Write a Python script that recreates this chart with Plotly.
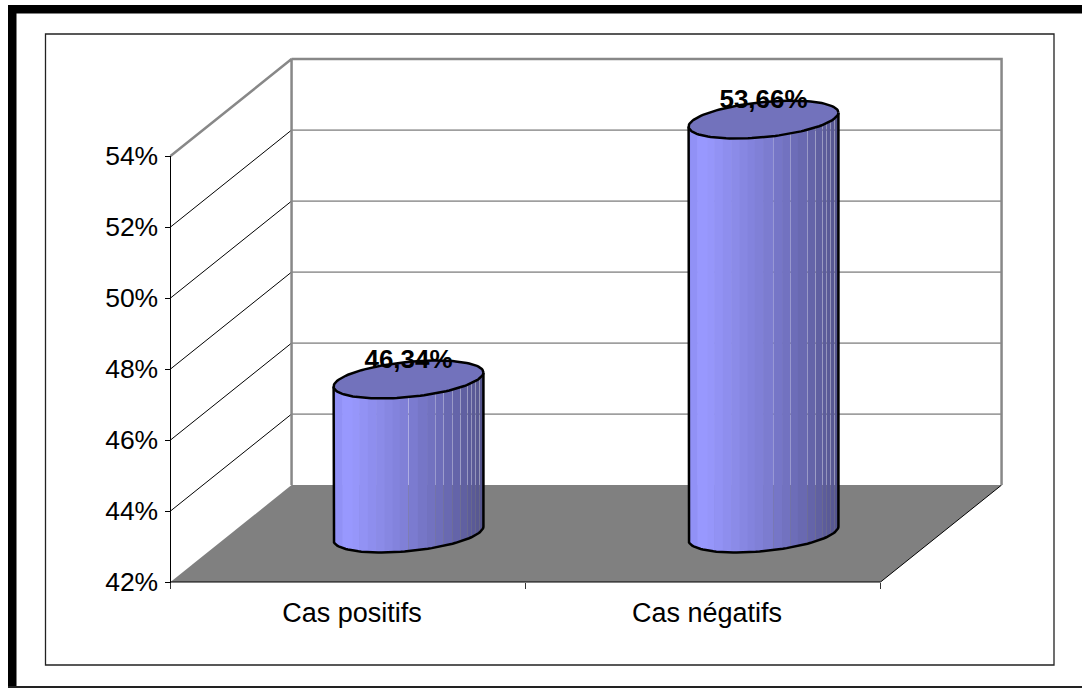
import math
import plotly.graph_objects as go

# Chart data
categories = ["Cas positifs", "Cas négatifs"]
values = [46.34, 53.66]
value_labels = ["46,34%", "53,66%"]
y_ticks = [42, 44, 46, 48, 50, 52, 54]

# Page and front-plane geometry, in pixels
W, H = 1082, 688
LEFT, RIGHT, TOP, BOTTOM = 170.5, 880.5, 156, 582

# Front plane of the box, in axis units
X_MIN, X_MAX = 0.0, 2.0
Y_MIN, Y_MAX = 42.0, 54.0
PX_PER_X = (RIGHT - LEFT) / (X_MAX - X_MIN)
PX_PER_Y = (BOTTOM - TOP) / (Y_MAX - Y_MIN)

# Oblique projection of the depth, in axis units
DEPTH_X = 0.341
DEPTH_Y = 2.73

# Cylinder shape, in axis units
RADIUS = 0.211
ELL_H = 0.496
ELL_SKEW = 0.197
LABEL_LIFT = 0.5

# Shading bands across a cylinder, as thousandths of its width
BAND_EDGES = [0, 16, 60, 128, 172, 231, 287, 342, 396, 443, 499, 564,
              626, 678, 732, 792, 846, 893, 919, 946, 973, 1000]
# Band edges where a hairline of the backdrop shows between two bands
OPEN_SEAMS = [
    [10, 13, 14, 15, 16, 17, 18, 19, 20],
    [11, 13, 15, 16, 17, 18, 19, 20],
]
SEAM_PX = 0.13
OVERLAP_PX = 0.3

GRADIENT = [
    (0.00, (140, 140, 240)),
    (0.10, (153, 153, 255)),
    (0.50, (126, 126, 212)),
    (0.80, (102, 102, 172)),
    (1.00, (84, 84, 140)),
]
CAP_COLOR = "#7272BC"
FLOOR_COLOR = "#808080"
WALL_EDGE = "#888888"
GRID_COLOR = "#5a5a5a"
FONT = "Liberation Sans, Arial, sans-serif"


def shade(u):
    for (u0, c0), (u1, c1) in zip(GRADIENT, GRADIENT[1:]):
        if u <= u1:
            f = (u - u0) / (u1 - u0)
            r, g, b = [round(a + (b - a) * f) for a, b in zip(c0, c1)]
            return f"rgb({r},{g},{b})"
    return "rgb(84,84,140)"


def ring(cx, cy, t):
    """Point on the projected circle of a cylinder section."""
    return (cx + RADIUS * math.cos(t),
            cy + ELL_H * math.sin(t) + ELL_SKEW * math.cos(t))


def front_angle(u):
    """Angle on the front half of the circle for a fraction of the width."""
    return -math.acos(max(-1.0, min(1.0, 2 * u - 1)))


fig = go.Figure()


def line(xs, ys, color, width):
    fig.add_trace(go.Scatter(x=xs, y=ys, mode="lines",
                             line=dict(color=color, width=width),
                             hoverinfo="skip", showlegend=False))


def poly(xs, ys, fill, edge=None, width=0.0):
    fig.add_trace(go.Scatter(x=xs + xs[:1], y=ys + ys[:1], mode="lines",
                             fill="toself", fillcolor=fill,
                             line=dict(color=edge or fill, width=width),
                             hoverinfo="skip", showlegend=False))


# Floor of the box
poly([X_MIN, X_MAX, X_MAX + DEPTH_X, X_MIN + DEPTH_X],
     [Y_MIN, Y_MIN, Y_MIN + DEPTH_Y, Y_MIN + DEPTH_Y], FLOOR_COLOR)
line([X_MAX, X_MAX + DEPTH_X], [Y_MIN, Y_MIN + DEPTH_Y], "#000000", 1)

# Gridlines on the side wall and the back wall
for v in y_ticks[1:-1]:
    line([X_MIN, X_MIN + DEPTH_X], [v, v + DEPTH_Y], "#000000", 1)
    line([X_MIN + DEPTH_X, X_MAX + DEPTH_X], [v + DEPTH_Y, v + DEPTH_Y], GRID_COLOR, 1)

# Outer edges of the walls
line([X_MIN, X_MIN + DEPTH_X, X_MIN + DEPTH_X],
     [Y_MAX, Y_MAX + DEPTH_Y, Y_MIN + DEPTH_Y], WALL_EDGE, 2.5)
line([X_MIN + DEPTH_X, X_MAX + DEPTH_X, X_MAX + DEPTH_X],
     [Y_MAX + DEPTH_Y, Y_MAX + DEPTH_Y, Y_MIN + DEPTH_Y], WALL_EDGE, 2.5)

# Front edges that carry the ticks
line([X_MIN, X_MIN, X_MAX], [Y_MAX, Y_MIN, Y_MIN], "#000000", 1)

# Cylinders, drawn as vertical shaded bands
band_px = 2 * RADIUS * PX_PER_X
for i, value in enumerate(values):
    cx = i + 0.5 + DEPTH_X / 2
    base = Y_MIN + DEPTH_Y / 2
    top = value + DEPTH_Y / 2
    for b in range(len(BAND_EDGES) - 1):
        pad0 = -SEAM_PX if b in OPEN_SEAMS[i] else OVERLAP_PX
        pad1 = -SEAM_PX if b + 1 in OPEN_SEAMS[i] else OVERLAP_PX
        u0 = max(0.0, BAND_EDGES[b] / 1000 - pad0 / band_px)
        u1 = min(1.0, BAND_EDGES[b + 1] / 1000 + pad1 / band_px)
        us = [u0 + (u1 - u0) * k / 6 for k in range(7)]
        ts = [front_angle(u) for u in us]
        pts = ([ring(cx, base, t) for t in ts] +
               [ring(cx, top, t) for t in reversed(ts)])
        poly([p[0] for p in pts], [p[1] for p in pts], shade((u0 + u1) / 2))

    # Silhouette of the body
    ts = [math.pi + math.pi * k / 60 for k in range(61)]
    lower = [ring(cx, base, t) for t in ts]
    left_edge, right_edge = ring(cx, top, math.pi), ring(cx, top, 0)
    line([left_edge[0]] + [p[0] for p in lower] + [right_edge[0]],
         [left_edge[1]] + [p[1] for p in lower] + [right_edge[1]], "#000000", 2.5)

    # Top cap
    ts = [2 * math.pi * k / 120 for k in range(120)]
    cap = [ring(cx, top, t) for t in ts]
    poly([p[0] for p in cap], [p[1] for p in cap], CAP_COLOR, "#000000", 2.5)

# Value labels above the caps
fig.add_trace(go.Scatter(
    x=[i + 0.5 + DEPTH_X / 2 for i in range(len(values))],
    y=[v + DEPTH_Y / 2 + LABEL_LIFT for v in values],
    mode="text", text=value_labels, textposition="middle center",
    textfont=dict(family=FONT, size=26, color="#000000", weight="bold"),
    hoverinfo="skip", showlegend=False))


def page_rect(x0, y0, x1, y1, **kw):
    return dict(type="rect", xref="paper", yref="paper", layer="below",
                x0=x0 / W, x1=x1 / W, y0=1 - y0 / H, y1=1 - y1 / H, **kw)


frame = [
    # Heavy outer frame
    page_rect(8, 5, W + 2, 13.5, fillcolor="#000000", line_width=0),
    page_rect(8, 5, 16.5, H + 2, fillcolor="#000000", line_width=0),
    page_rect(8, 686, W + 2, H + 2, fillcolor="#222222", line_width=0),
    # Thin box round the chart
    page_rect(45.5, 34, 1054, 665, fillcolor="rgba(0,0,0,0)",
              line=dict(color="#222222", width=1.3)),
]

fig.update_layout(
    width=W, height=H, autosize=False,
    margin=dict(l=0, r=0, t=0, b=0),
    paper_bgcolor="#ffffff", plot_bgcolor="rgba(0,0,0,0)",
    font=dict(family=FONT, size=26, color="#000000"),
    shapes=frame,
    showlegend=False,
    # Both axes fill the page, so the box can run past the front plane;
    # the tick rows sit on the front edges through free positions.
    xaxis=dict(
        domain=[0, 1], automargin=False,
        range=[X_MIN - LEFT / PX_PER_X, X_MIN + (W - LEFT) / PX_PER_X],
        anchor="free", position=1 - BOTTOM / H,
        tickvals=[i + 0.5 for i in range(len(categories))], ticktext=categories,
        tickfont=dict(family=FONT, size=27, color="#000000"),
        ticks="", showgrid=False, zeroline=False, showline=False,
        minor=dict(tickvals=[0, 1, 2], ticks="outside", ticklen=6,
                   tickcolor="#333333", tickwidth=1, showgrid=False),
        ticklabelstandoff=12, ticklabelshift=4,
    ),
    yaxis=dict(
        domain=[0, 1], automargin=False,
        range=[Y_MIN - (H - BOTTOM) / PX_PER_Y, Y_MIN + BOTTOM / PX_PER_Y],
        anchor="free", position=LEFT / W,
        tickvals=y_ticks, ticktext=[f"{v}%" for v in y_ticks],
        tickfont=dict(family=FONT, size=26.5, color="#000000"),
        ticks="outside", ticklen=6, tickcolor="#000000", tickwidth=1,
        showgrid=False, zeroline=False, showline=False,
        ticklabelstandoff=1,
    ),
)

fig.write_html("out.html")
